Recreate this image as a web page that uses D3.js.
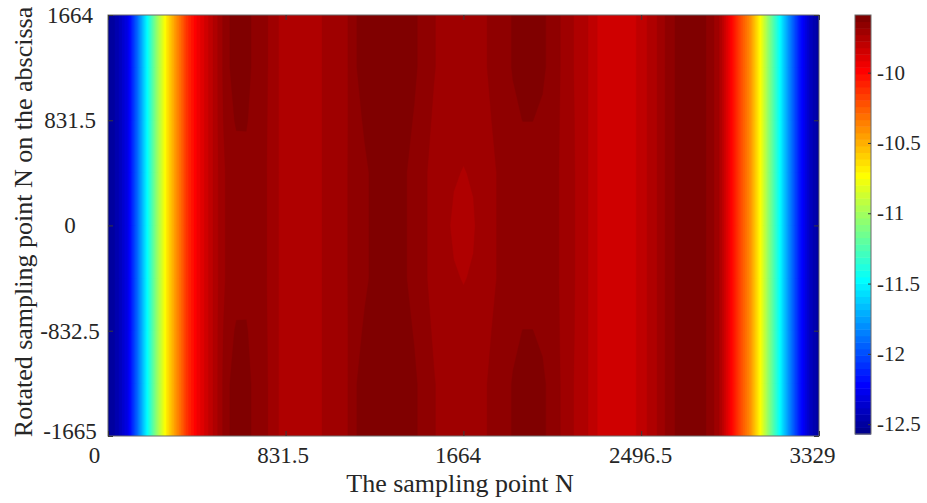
<!DOCTYPE html>
<html lang="en">
<head>
  <meta charset="UTF-8">
  <title>Rotated sampling point contour</title>
  <script src="https://d3js.org/d3.v7.min.js"></script>
  <style>
    html, body {
      margin: 0;
      padding: 0;
      background: #fff;
    }

    svg text {
      font-family: 'Liberation Serif', 'Times New Roman', serif;
    }

    .box {
      fill: none;
      stroke: #6b6b6b;
      stroke-width: 1px;
    }
  </style>
</head>
<body>
  <div id="chart"></div>

  <script>
    const SERIF = "'Liberation Serif', 'Times New Roman', serif";

    // axis ticks
    const xTicks = [0, 831.5, 1664, 2496.5, 3329];
    const xTickLabels = ["0", "831.5", "1664", "2496.5", "3329"];
    const yTicks = [1664, 831.5, 0, -832.5, -1665];
    const yTickLabels = ["1664", "831.5", "0", "-832.5", "-1665"];
    const cbarTicks = [-10, -10.5, -11, -11.5, -12, -12.5];
    const cbarTickLabels = ["-10", "-10.5", "-11", "-11.5", "-12", "-12.5"];
    const colorRange = [-12.57, -9.59];

    // grid: 73 columns from x = 0 to 3329, rows from y = 1664 down to -1665
    const xRange = [0, 3329];
    const ySamples = [1664, 1247.875, 831.75, 415.625, -0.5, -416.625, -832.75, -1248.875, -1665];

    // row at the top / bottom edges
    const zEdge = [
      -12.54, -12.45, -12.29, -11.91, -11.47, -11.02, -10.66, -10.39, -10.13, -9.96,
      -9.84, -9.74, -9.645, -9.62, -9.622, -9.652, -9.675, -9.72, -9.755, -9.76,
      -9.76, -9.75, -9.72, -9.70, -9.70, -9.642, -9.615, -9.60, -9.595, -9.60,
      -9.61, -9.628, -9.655, -9.68, -9.70, -9.71, -9.712, -9.71, -9.695, -9.665,
      -9.652, -9.634, -9.615, -9.615, -9.628, -9.655, -9.69, -9.725, -9.755, -9.79,
      -9.85, -9.855, -9.855, -9.845, -9.80, -9.76, -9.71, -9.645, -9.625, -9.615,
      -9.62, -9.65, -9.74, -9.96, -10.19, -10.40, -10.72, -11.11, -11.47, -11.83,
      -12.15, -12.39, -12.51
    ];

    // row at +-832
    const zShoulder = [
      -12.54, -12.45, -12.29, -11.91, -11.47, -11.02, -10.66, -10.39, -10.13, -9.96,
      -9.84, -9.74, -9.655, -9.632, -9.633, -9.656, -9.678, -9.72, -9.755, -9.76,
      -9.76, -9.75, -9.72, -9.70, -9.695, -9.655, -9.63, -9.612, -9.608, -9.61,
      -9.62, -9.64, -9.665, -9.69, -9.71, -9.712, -9.715, -9.712, -9.70, -9.68,
      -9.66, -9.645, -9.636, -9.636, -9.645, -9.665, -9.69, -9.722, -9.755, -9.79,
      -9.85, -9.855, -9.855, -9.845, -9.80, -9.76, -9.71, -9.645, -9.625, -9.615,
      -9.62, -9.65, -9.74, -9.96, -10.19, -10.40, -10.72, -11.11, -11.47, -11.83,
      -12.15, -12.39, -12.51
    ];

    // row at +-416
    const zInner = [
      -12.54, -12.45, -12.29, -11.91, -11.47, -11.02, -10.66, -10.39, -10.13, -9.96,
      -9.84, -9.74, -9.675, -9.655, -9.65, -9.66, -9.68, -9.72, -9.755, -9.76,
      -9.76, -9.75, -9.72, -9.70, -9.69, -9.665, -9.645, -9.625, -9.62, -9.62,
      -9.632, -9.65, -9.675, -9.70, -9.715, -9.725, -9.732, -9.725, -9.705, -9.69,
      -9.67, -9.665, -9.66, -9.66, -9.665, -9.67, -9.69, -9.72, -9.755, -9.79,
      -9.85, -9.855, -9.855, -9.845, -9.80, -9.76, -9.71, -9.645, -9.625, -9.615,
      -9.62, -9.65, -9.74, -9.96, -10.19, -10.40, -10.72, -11.11, -11.47, -11.83,
      -12.15, -12.39, -12.51
    ];

    // row at 0
    const zCenter = [
      -12.54, -12.45, -12.29, -11.91, -11.47, -11.02, -10.66, -10.39, -10.13, -9.96,
      -9.84, -9.74, -9.675, -9.655, -9.65, -9.66, -9.68, -9.72, -9.755, -9.76,
      -9.76, -9.75, -9.72, -9.70, -9.69, -9.665, -9.645, -9.625, -9.62, -9.62,
      -9.632, -9.65, -9.675, -9.70, -9.715, -9.738, -9.75, -9.735, -9.705, -9.69,
      -9.67, -9.665, -9.66, -9.66, -9.665, -9.67, -9.69, -9.72, -9.755, -9.79,
      -9.85, -9.855, -9.855, -9.845, -9.80, -9.76, -9.71, -9.645, -9.625, -9.615,
      -9.62, -9.65, -9.74, -9.96, -10.19, -10.40, -10.72, -11.11, -11.47, -11.83,
      -12.15, -12.39, -12.51
    ];

    const zRows = [zEdge, zEdge, zShoulder, zInner, zCenter, zInner, zShoulder, zEdge, zEdge];

    // small label shifts seen in the figure
    const xLabelNudge = [-14, -3, -6, -1, -7];
    const yLabelNudge = [0, 0, 0, 0, -5];

    // matlab jet(m)
    function jet(m) {
      const n = Math.ceil(m / 4);
      const u = [];
      for (let i = 1; i <= n; i++) u.push(i / n);
      for (let i = 1; i < n; i++) u.push(1);
      for (let i = n; i >= 1; i--) u.push(i / n);
      const off = Math.ceil(n / 2) - (m % 4 === 1 ? 1 : 0);
      const J = d3.range(m).map(() => [0, 0, 0]);
      u.forEach((val, i) => {
        const g = off + i + 1, r = g + n, b = g - n;
        if (r <= m) J[r - 1][0] = val;
        if (g <= m) J[g - 1][1] = val;
        if (b >= 1) J[b - 1][2] = val;
      });
      return J.map(c => d3.rgb(c[0] * 255, c[1] * 255, c[2] * 255).formatHex());
    }

    const colors = jet(64);
    const step = (colorRange[1] - colorRange[0]) / colors.length;
    const thresholds = colors.map((c, k) => colorRange[0] + k * step);

    const width = 927, height = 503;
    const plot = { left: 108, right: 819, top: 15, bottom: 436 };
    const cbar = { left: 855, right: 871, top: 15, bottom: 434 };

    const x = d3.scaleLinear().domain(xRange).range([plot.left, plot.right]);
    const y = d3.scaleLinear().domain([-1665, 1664]).range([plot.bottom, plot.top]);
    const c = d3.scaleLinear().domain(colorRange).range([cbar.bottom, cbar.top]);

    const svg = d3.select("#chart")
      .append("svg")
      .attr("width", width)
      .attr("height", height)
      .style("display", "block");

    svg.append("clipPath")
      .attr("id", "plot-clip")
      .append("rect")
      .attr("x", plot.left)
      .attr("y", plot.top)
      .attr("width", plot.right - plot.left)
      .attr("height", plot.bottom - plot.top);

    // filled contours
    const nx = zRows[0].length, ny = zRows.length;
    const xStep = (xRange[1] - xRange[0]) / (nx - 1);
    const yStep = (ySamples[0] - ySamples[ny - 1]) / (ny - 1);
    const grid = zRows.flat();

    const contours = d3.contours()
      .size([nx, ny])
      .thresholds(thresholds)(grid);

    const proj = d3.geoTransform({
      point: function (px, py) {
        this.stream.point(
          x(xRange[0] + (px - 0.5) * xStep),
          y(ySamples[0] - (py - 0.5) * yStep)
        );
      }
    });
    const path = d3.geoPath(proj);

    svg.append("g")
      .attr("clip-path", "url(#plot-clip)")
      .selectAll("path")
      .data(contours)
      .enter()
      .append("path")
      .attr("d", path)
      .attr("fill", (d, i) => colors[i])
      .attr("stroke", (d, i) => colors[i])
      .attr("stroke-width", 0.4);

    svg.append("rect")
      .attr("class", "box")
      .attr("x", plot.left)
      .attr("y", plot.top)
      .attr("width", plot.right - plot.left)
      .attr("height", plot.bottom - plot.top);

    // axes
    function styleAxis(g, size) {
      g.attr("font-family", SERIF)
        .attr("font-size", size)
        .style("color", "#262626");
      g.select(".domain").remove();
      g.selectAll(".tick line").attr("stroke", "#3a3a3a");
      g.selectAll(".tick text").style("font-family", SERIF);
    }

    svg.append("g")
      .attr("transform", `translate(0,${plot.bottom})`)
      .call(d3.axisBottom(x)
        .tickValues(xTicks)
        .tickFormat((d, i) => xTickLabels[i])
        .tickSizeInner(-5)
        .tickSizeOuter(0)
        .tickPadding(11))
      .call(g => styleAxis(g, 23))
      .selectAll(".tick text")
      .attr("dx", (d, i) => xLabelNudge[i]);

    svg.append("g")
      .attr("transform", `translate(0,${plot.top})`)
      .call(d3.axisTop(x).tickValues(xTicks).tickFormat("").tickSizeInner(-5).tickSizeOuter(0))
      .call(g => styleAxis(g, 23));

    svg.append("g")
      .attr("transform", `translate(${plot.left},0)`)
      .call(d3.axisLeft(y)
        .tickValues(yTicks)
        .tickFormat((d, i) => yTickLabels[i])
        .tickSizeInner(-5)
        .tickSizeOuter(0))
      .call(g => styleAxis(g, 23))
      .selectAll(".tick text")
      .attr("text-anchor", "middle")
      .attr("x", -38)
      .attr("y", (d, i) => yLabelNudge[i]);

    svg.append("g")
      .attr("transform", `translate(${plot.right},0)`)
      .call(d3.axisRight(y).tickValues(yTicks).tickFormat("").tickSizeInner(-5).tickSizeOuter(0))
      .call(g => styleAxis(g, 23));

    // axis titles
    svg.append("text")
      .attr("x", 460)
      .attr("y", 492)
      .attr("text-anchor", "middle")
      .attr("font-size", 26)
      .style("font-family", SERIF)
      .attr("fill", "#262626")
      .text("The sampling point N");

    svg.append("text")
      .attr("transform", "translate(32,222) rotate(-90)")
      .attr("text-anchor", "middle")
      .attr("font-size", 26)
      .style("font-family", SERIF)
      .attr("fill", "#262626")
      .text("Rotated sampling point N on the abscissa");

    // colorbar
    svg.append("g")
      .selectAll("rect")
      .data(thresholds)
      .enter()
      .append("rect")
      .attr("x", cbar.left)
      .attr("width", cbar.right - cbar.left)
      .attr("y", d => c(d + step))
      .attr("height", d => c(d) - c(d + step) + 0.5)
      .attr("fill", (d, i) => colors[i]);

    svg.append("rect")
      .attr("class", "box")
      .attr("x", cbar.left)
      .attr("y", cbar.top)
      .attr("width", cbar.right - cbar.left)
      .attr("height", cbar.bottom - cbar.top);

    svg.append("g")
      .attr("transform", `translate(${cbar.right},0)`)
      .call(d3.axisRight(c)
        .tickValues(cbarTicks)
        .tickFormat((d, i) => cbarTickLabels[i])
        .tickSizeInner(-3)
        .tickSizeOuter(0)
        .tickPadding(6))
      .call(g => styleAxis(g, 21));
  </script>
</body>
</html>
